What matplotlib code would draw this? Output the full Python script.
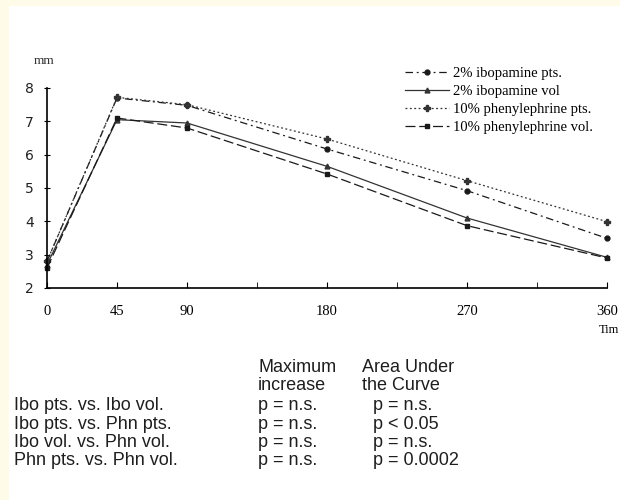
import matplotlib.pyplot as plt
from matplotlib.patches import Rectangle

# time points (min) and pupil diameter (mm)
tiempo = [0, 45, 90, 180, 270, 360]
etiquetas_x = ['0', '45', '90', '180', '270', '360']
ibo_pts = [2.8, 7.7, 7.48, 6.17, 4.92, 3.49]
ibo_vol = [2.7, 7.05, 6.95, 5.65, 4.1, 2.92]
phn_pts = [2.8, 7.72, 7.5, 6.47, 5.22, 3.99]
phn_vol = [2.6, 7.1, 6.8, 5.42, 3.87, 2.9]

filas = ['Ibo pts. vs. Ibo vol.', 'Ibo pts. vs. Phn pts.',
         'Ibo vol. vs. Phn vol.', 'Phn pts. vs. Phn vol.']
max_inc = ['p = n.s.', 'p = n.s.', 'p = n.s.', 'p = n.s.']
auc = ['p = n.s.', 'p < 0.05', 'p = n.s.', 'p = 0.0002']

fig = plt.figure(figsize=(6.2, 5), dpi=100, facecolor='#fffbe9')
# white page area
fig.patches.append(Rectangle((9 / 620, 0), 1, 1 - 6 / 500, transform=fig.transFigure,
                             facecolor='white', edgecolor='none', zorder=-5))

ax = fig.add_axes([47 / 620, 1 - 288 / 500, 560 / 620, 200 / 500])
ax.set_facecolor('none')
serif = 'Liberation Serif'
tinta = '#1a1a1a'

ax.plot(tiempo, ibo_pts, color=tinta, lw=0.9, ls=(0, (6, 3, 1.5, 3)),
        marker='o', ms=3.5, label='2% ibopamine pts.', clip_on=False)
ax.plot(tiempo, ibo_vol, color='#333333', lw=0.9, ls='-',
        marker='^', ms=3.5, label='2% ibopamine vol', clip_on=False)
ax.plot(tiempo, phn_pts, color='#333333', lw=0.9, ls=(0, (1.5, 2)),
        marker='P', ms=4, label='10% phenylephrine pts.', clip_on=False)
ax.plot(tiempo, phn_vol, color=tinta, lw=0.9, ls=(0, (8, 3)),
        marker='s', ms=3.5, label='10% phenylephrine vol.', clip_on=False)

ax.set_xlim(0, 360)
ax.set_ylim(2, 8)
ax.spines['top'].set_visible(False)
ax.spines['right'].set_visible(False)
ax.spines['left'].set_linewidth(1.2)
ax.spines['bottom'].set_linewidth(1.2)
ax.set_xticks(tiempo)
ax.set_xticklabels(etiquetas_x)
ax.set_xticks([135, 225, 315], minor=True)
ax.set_yticks(range(2, 9))
ax.tick_params(axis='both', direction='inout', length=5, width=0.8)
ax.tick_params(axis='x', which='both', direction='in', length=4, pad=12,
               labelsize=10.5)
ax.tick_params(axis='y', pad=7, labelsize=10)
for t in ax.get_xticklabels():
    t.set_fontfamily(serif)
for t in ax.get_yticklabels():
    t.set_fontfamily('DejaVu Sans')
    t.set_color('#222222')

ax.text(-0.005, 1.105, 'mm', transform=ax.transAxes, fontsize=9.5,
        fontfamily=serif, ha='center', va='bottom', color='#333333')
fig.text(619 / 620, 1 - 330 / 500, 'Tim', fontsize=9,
         fontfamily=serif, ha='right', va='center')

leg = ax.legend(loc='upper left', bbox_to_anchor=(352 / 560, 1.135), frameon=False,
                handlelength=3.0, labelspacing=0.32, borderaxespad=0,
                handletextpad=0.3, prop={'family': serif, 'size': 10.5})

# stats table under the chart
sans = 'Liberation Sans'
fs = 13
col = '#1e1e1e'
fig.text(258 / 620, 1 - 367 / 500, 'Maximum', fontsize=fs, fontfamily=sans, va='center', color=col)
fig.text(258 / 620, 1 - 386 / 500, 'increase', fontsize=fs, fontfamily=sans, va='center', color=col)
fig.text(362 / 620, 1 - 367 / 500, 'Area Under', fontsize=fs, fontfamily=sans, va='center', color=col)
fig.text(362 / 620, 1 - 386 / 500, 'the Curve', fontsize=fs, fontfamily=sans, va='center', color=col)
for i, (f, m, a) in enumerate(zip(filas, max_inc, auc)):
    y = 1 - (406 + i * 18.3) / 500
    fig.text(14 / 620, y, f, fontsize=fs, fontfamily=sans, va='center', color=col)
    fig.text(258 / 620, y, m, fontsize=fs, fontfamily=sans, va='center', color=col)
    fig.text(373 / 620, y, a, fontsize=fs, fontfamily=sans, va='center', color=col)

fig.savefig('out.png', dpi=100, facecolor=fig.get_facecolor())
